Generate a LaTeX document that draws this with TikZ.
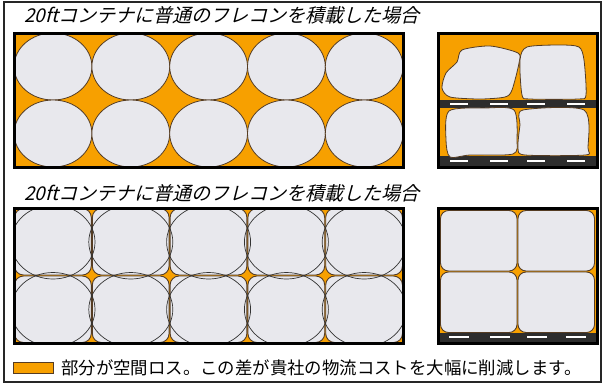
\documentclass[tikz,border=0pt]{standalone}
\usepackage{fontspec}
\newfontfamily\jpfont{Noto Sans CJK JP}
\newfontfamily\jpslant[FakeSlant=0.25]{Noto Sans CJK JP}
\usepackage{tikz}

\definecolor{lossorange}{RGB}{247,160,0}
\definecolor{baggrey}{RGB}{232,232,237}
\definecolor{bagedge}{RGB}{85,60,35}
\definecolor{palletgrey}{RGB}{45,45,45}

\begin{document}
\begin{tikzpicture}[
        x=1pt, y=-1pt,
        container/.style={draw=black, line width=3pt},
        bag/.style={fill=baggrey, draw=bagedge, line width=0.8pt},
        cell/.style={fill=baggrey, draw=bagedge, line width=0.9pt, rounded corners=9pt},
        ring/.style={draw=black!80, line width=0.7pt},
        pallet/.style={fill=palletgrey},
        board/.style={fill=white},
        title/.style={anchor=west, inner sep=0pt, font=\jpslant\fontsize{19}{21}\selectfont},
        legend/.style={anchor=west, inner sep=0pt, font=\jpfont\fontsize{17.4}{19}\selectfont}
    ]
    \useasboundingbox (0,0) rectangle (607,384);

    % outer frame
    \draw[line width=1.2pt, draw=black!85] (4,2) rectangle (601,382);

    % Titles
    \node[title] (title1) at (24,15) {20ftコンテナに普通のフレコンを積載した場合};
    \node[title] (title2) at (24,193) {20ftコンテナに普通のフレコンを積載した場合};

    % round bags, top row
    \fill[lossorange] (14,33) rectangle (403,167);
    \foreach \col in {0,...,4}
        \foreach \row in {0,1}
            \draw[bag] ({53+77.8*\col},{66.5+67*\row}) ellipse [x radius=38.9, y radius=33.5];
    \draw[container] (14,33) rectangle (403,167);

    % lumpy bags on pallets
    \fill[lossorange] (438,33) rectangle (597,167);
    \fill[pallet] (438,100) rectangle (597,108);
    \fill[pallet] (438,156) rectangle (597,167);
    \foreach \x in {450,490,527,567} {
        \fill[board] (\x,103) rectangle ++(18,2);
        \fill[board] (\x,160) rectangle ++(18,2);
    }
    \draw[bag] plot[smooth cycle, tension=0.45] coordinates {
        (462,50) (490,46) (518,53) (519,63) (512,90) (505,97) (480,99) (450,97) (442,88) (446,73) (457,62)};
    \draw[bag] plot[smooth cycle, tension=0.45] coordinates {
        (527,47) (560,45) (579,47) (584,60) (586,95) (578,99) (530,99) (522,95) (520,60)};
    \draw[bag] plot[smooth cycle, tension=0.45] coordinates {
        (449,111) (485,108) (514,110) (517,140) (513,154) (470,155) (450,157) (446,140)};
    \draw[bag] plot[smooth cycle, tension=0.45] coordinates {
        (523,110) (584,110) (588,148) (585,155) (525,155) (518,148) (520,125)};
    \draw[container] (438,33) rectangle (597,167);

    % square bags, bottom row
    \fill[lossorange] (14,208) rectangle (403,343);
    \foreach \col in {0,...,4}
        \foreach \row in {0,1}
            \draw[cell] ({14.5+77.8*\col},{208.5+67.5*\row}) rectangle ++(76.8,66.5);
    \begin{scope}
        \clip (14,208) rectangle (403,343);
        \foreach \col in {0,...,4}
            \foreach \row in {0,1}
                \draw[ring] ({53+77.8*\col},{242+67.5*\row}) ellipse [x radius=42, y radius=37];
    \end{scope}
    \draw[container] (14,208) rectangle (403,343);

    % square bags on a pallet
    \fill[lossorange] (438,208) rectangle (597,343);
    \foreach \col in {0,1}
        \foreach \row in {0,1}
            \draw[cell, rounded corners=8pt] ({440.5+77.5*\col},{210.5+61.5*\row}) rectangle ++(76.5,60.5);
    \fill[pallet] (438,333) rectangle (597,343);
    \foreach \x in {449,490,527,566}
        \fill[board] (\x,335.5) rectangle ++(20,2);
    \draw[container] (438,208) rectangle (597,343);

    % legend
    \draw[fill=lossorange, draw=bagedge, line width=0.8pt] (13,362) rectangle (53,373);
    \node[legend] (note) at (61,367.5) {部分が空間ロス。この差が貴社の物流コストを大幅に削減します。};
\end{tikzpicture}
\end{document}
